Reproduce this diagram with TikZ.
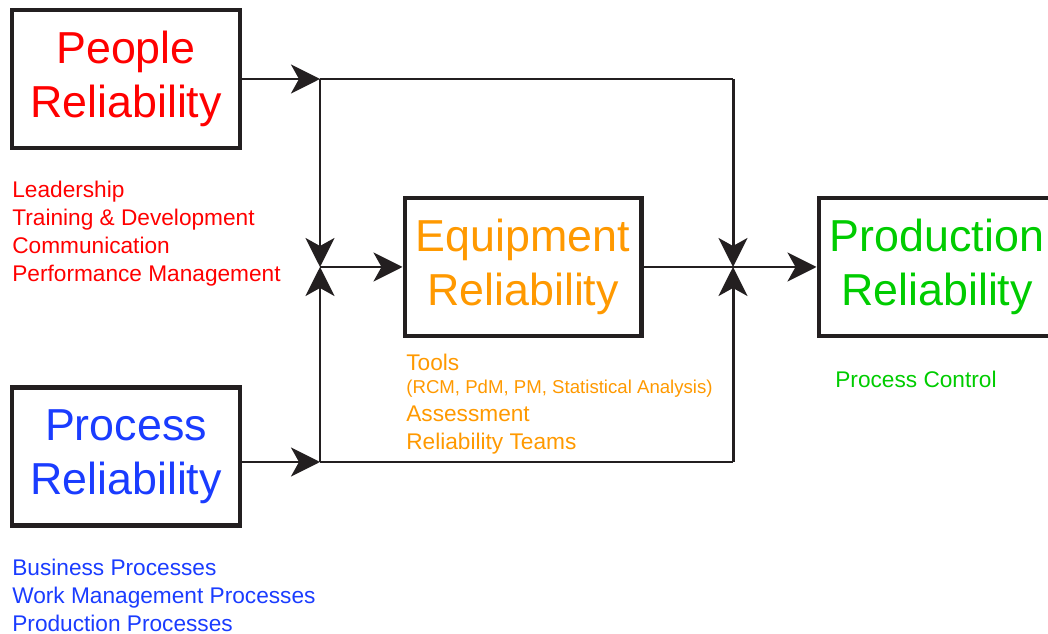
\documentclass[tikz,border=0pt]{standalone}
\usepackage{fontspec}
\setmainfont{Liberation Sans}
\usetikzlibrary{arrows.meta}
\definecolor{peoplered}{HTML}{FF0000}
\definecolor{processblue}{HTML}{1A3CFF}
\definecolor{equiporange}{HTML}{FF9900}
\definecolor{prodgreen}{HTML}{00CC00}
\definecolor{darkline}{HTML}{231F20}
\tikzset{
  box/.style={rectangle, draw=darkline, line width=2.3pt, fill=white, align=center, minimum width=4.56cm, minimum height=2.76cm, font=\fontsize{25.5}{31}\selectfont},
  widebox/.style={box, minimum width=4.74cm},
  notes/.style={anchor=north west, inner sep=0pt, align=left, font=\fontsize{12.9}{15.9}\selectfont},
  flow/.style={-{Stealth[length=5.8mm, width=5.8mm, inset=1.6mm]}, line width=1.7pt, draw=darkline},
  link/.style={line width=1.7pt, draw=darkline}
}

\begin{document}
\begin{tikzpicture}[x=0.02cm, y=-0.02cm]

\useasboundingbox (0,0) rectangle (1048,634);

\node[box, text=peoplered] (people) at (126,79) {People\\Reliability};
\node[box, text=processblue] (process) at (126,456.5) {Process\\Reliability};
\node[widebox, text=equiporange] (equipment) at (523,267) {Equipment\\Reliability};
\node[widebox, text=prodgreen] (production) at (937,267) {Production\\Reliability};

\node[notes, text=peoplered] (peoplenotes) at (12,181) {Leadership\\Training \& Development\\Communication\\Performance Management};
\node[notes, text=processblue] (processnotes) at (12,559) {Business Processes\\Work Management Processes\\Production Processes};
\node[notes, text=equiporange] (equipnotes) at (406,354) {Tools\\[-3pt]{\fontsize{10.6}{12}\selectfont (RCM, PdM, PM, Statistical Analysis)}\\Assessment\\Reliability Teams};
\node[notes, text=prodgreen] (prodnotes) at (835,371) {Process Control};

\coordinate (topleft) at (320,79);
\coordinate (topright) at (733,79);
\coordinate (midleft) at (320,267);
\coordinate (midright) at (733,267);
\coordinate (botleft) at (320,462);
\coordinate (botright) at (733,462);

\draw[flow] (people.east) -- (topleft);
\draw[link] (topleft) -- (topright);
\draw[flow] (topleft) -- (midleft);
\draw[flow] (topright) -- (midright);
\draw[flow] (process.east |- botleft) -- (botleft);
\draw[link] (botleft) -- (botright);
\draw[flow] (botleft) -- (midleft);
\draw[flow] (botright) -- (midright);
\draw[flow] (midleft) -- (equipment.west);
\draw[flow] (equipment.east) -- (production.west);

\end{tikzpicture}
\end{document}
